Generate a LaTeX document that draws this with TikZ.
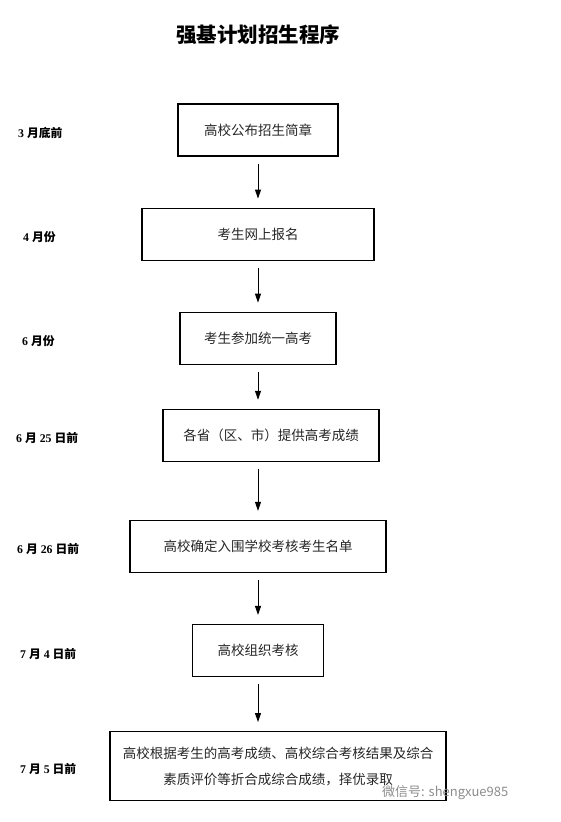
\documentclass[tikz,border=0pt]{standalone}
\usepackage{fontspec}
\setmainfont{Liberation Serif}
\newfontfamily\cjk{Noto Sans CJK SC}
\usepackage{tikz}
\usetikzlibrary{arrows.meta, positioning}

\begin{document}
\begin{tikzpicture}[x=1pt, y=-1pt,
        stepbox/.style={rectangle, draw=black, line width=1.1pt, minimum height=52pt, inner sep=2pt, align=center, text=black!85, font=\cjk\fontsize{13.5}{26}\selectfont},
        datelbl/.style={anchor=west, inner sep=0pt, yshift=-3pt, font=\fontsize{11.8}{14}\selectfont\bfseries},
        flow/.style={-{Triangle[length=9pt, width=6pt]}, line width=0.9pt, shorten <=7pt, shorten >=9pt}
    ]
        \useasboundingbox (0,0) rectangle (561,822);

        % Title
        \node[font=\cjk\bfseries\fontsize{20.5}{24}\selectfont] (title) at (258,35) {强基计划招生程序};

        % Steps
        \node[stepbox, minimum width=160pt] (pub) at (258,130) {高校公布招生简章};
        \node[stepbox, minimum width=232pt, below=51pt of pub] (reg) {考生网上报名};
        \node[stepbox, minimum width=156pt, below=51pt of reg] (exam) {考生参加统一高考};
        \node[stepbox, minimum width=216pt, below=44pt of exam, xshift=13pt] (score) {各省（区、市）提供高考成绩};
        \node[stepbox, minimum width=256pt, below=58pt of score, xshift=-13pt] (list) {高校确定入围学校考核考生名单};
        \node[stepbox, minimum width=131pt, below=51pt of list] (test) {高校组织考核};
        \node[stepbox, minimum width=336pt, minimum height=69pt, below=54pt of test, xshift=20pt] (admit) {高校根据考生的高考成绩、高校综合考核结果及综合\\素质评价等折合成综合成绩，择优录取};

        % Dates
        \node[datelbl] (d1) at (18,0 |- pub) {3 {\cjk 月底前}};
        \node[datelbl] (d2) at (23,0 |- reg) {4 {\cjk 月份}};
        \node[datelbl] (d3) at (22,0 |- exam) {6 {\cjk 月份}};
        \node[datelbl] (d4) at (16,0 |- score) {6 {\cjk 月} 25 {\cjk 日前}};
        \node[datelbl] (d5) at (17,0 |- list) {6 {\cjk 月} 26 {\cjk 日前}};
        \node[datelbl] (d6) at (20,0 |- test) {7 {\cjk 月} 4 {\cjk 日前}};
        \node[datelbl] (d7) at (20,0 |- admit) {7 {\cjk 月} 5 {\cjk 日前}};

        % Arrows
        \draw[flow] (pub) -- (reg);
        \draw[flow] (reg) -- (exam);
        \draw[flow] (exam.south) -- (exam.south |- score.north);
        \draw[flow] (exam.south |- score.south) -- (list.north);
        \draw[flow] (list) -- (test);
        \draw[flow] (test.south) -- (test.south |- admit.north);

        % Watermark
        \node[anchor=west, inner sep=0pt, text=black!45, font=\cjk\fontsize{13}{15}\selectfont] (mark) at (382,793) {微信号: shengxue985};
    \end{tikzpicture}
\end{document}
